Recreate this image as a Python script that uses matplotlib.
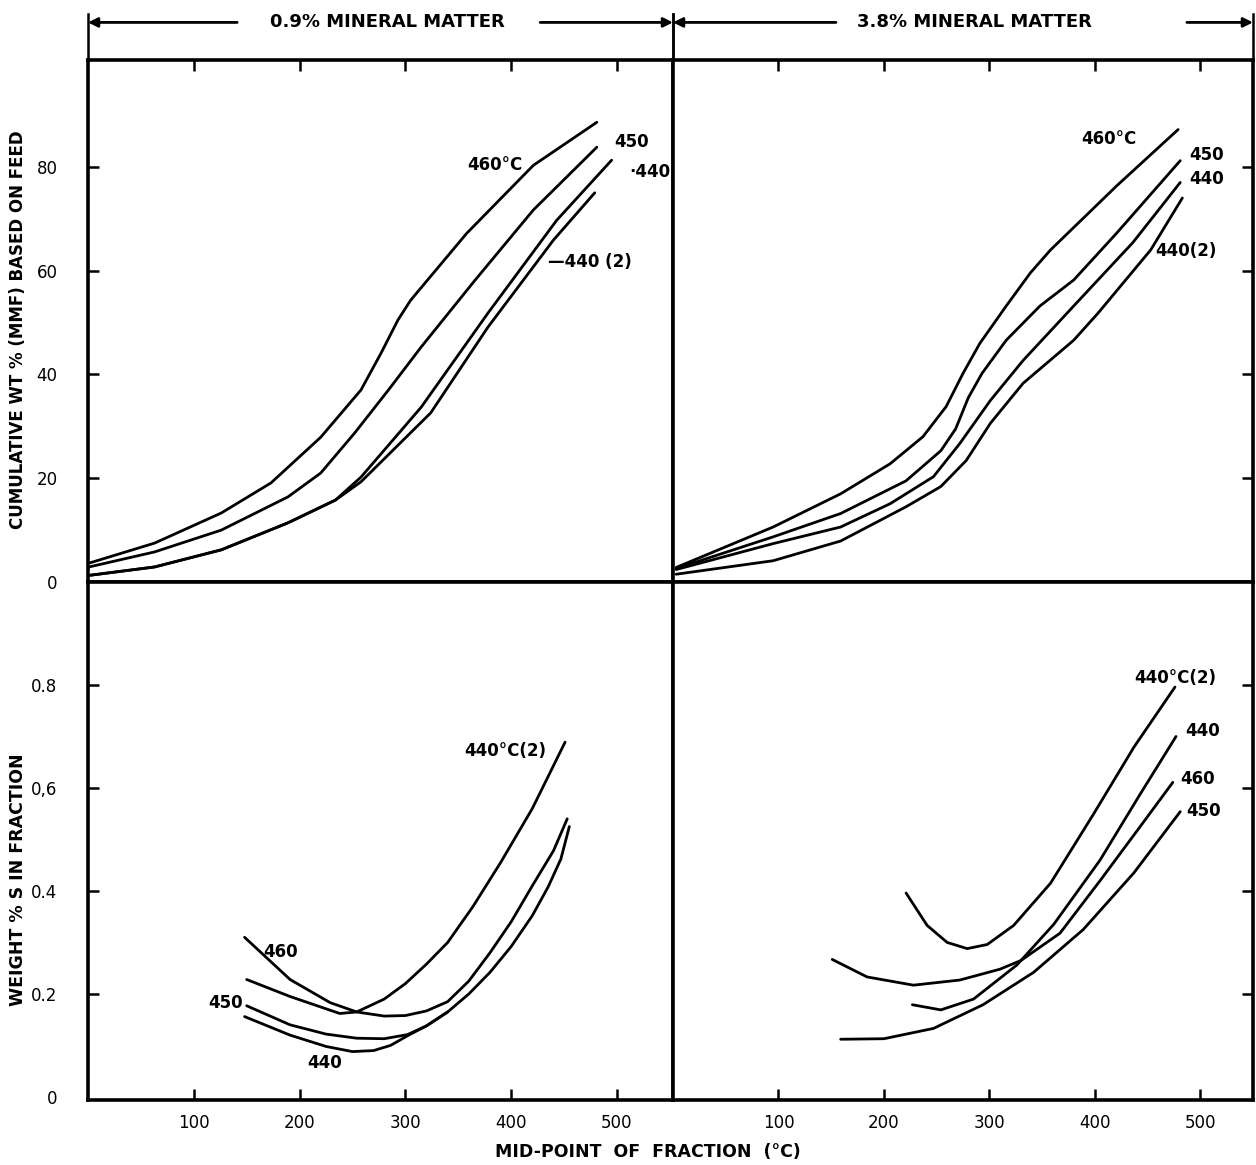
import numpy as np
from matplotlib import pyplot as plt

# ---- top panels: cumulative wt % (MMF) based on feed ----
# 0.9 % mineral matter
tl_460_x = [2, 63, 126, 173, 220, 258, 277, 293, 305, 321, 358, 421, 481]
tl_460_y = [3.7, 7.5, 13.3, 19.1, 27.9, 37.0, 44.1, 50.5, 54.3, 58.2, 67.2, 80.3, 88.6]
tl_450_x = [1, 63, 126, 189, 220, 252, 284, 315, 366, 421, 481]
tl_450_y = [2.9, 5.8, 10.0, 16.4, 21.0, 28.7, 37.0, 45.3, 58.2, 71.7, 83.8]
tl_440_x = [2, 63, 126, 189, 234, 258, 315, 378, 443, 495]
tl_440_y = [1.3, 2.9, 6.2, 11.4, 15.8, 20.2, 33.7, 51.8, 69.7, 81.3]
tl_4402_x = [2, 63, 126, 189, 234, 258, 324, 378, 440, 479]
tl_4402_y = [1.3, 2.9, 6.2, 11.4, 15.8, 19.3, 32.6, 49.1, 65.9, 75.0]

# 3.8 % mineral matter
tr_460_x = [3, 95, 159, 206, 237, 259, 275, 291, 316, 339, 358, 421, 479]
tr_460_y = [2.8, 10.6, 17.0, 22.8, 28.0, 33.8, 40.2, 46.0, 53.2, 59.6, 64.0, 76.4, 87.2]
tr_450_x = [3, 95, 159, 221, 254, 268, 280, 293, 316, 348, 380, 421, 481]
tr_450_y = [2.6, 8.7, 13.2, 19.5, 25.3, 29.5, 35.5, 40.2, 46.6, 53.2, 58.2, 67.3, 81.2]
tr_440_x = [3, 95, 159, 206, 247, 272, 301, 332, 380, 436, 481]
tr_440_y = [2.4, 7.4, 10.6, 15.1, 20.3, 26.7, 35.0, 42.7, 53.2, 65.4, 77.0]
tr_4402_x = [3, 95, 159, 221, 254, 278, 301, 332, 380, 403, 453, 483]
tr_4402_y = [1.5, 4.1, 7.9, 14.5, 18.4, 23.4, 30.6, 38.3, 46.6, 51.8, 64.0, 74.0]

# ---- bottom panels: weight % S in fraction ----
bl_460_x = [148, 191, 229, 254, 280, 300, 320, 340, 360, 380, 400, 420, 440, 453]
bl_460_y = [0.31, 0.228, 0.183, 0.165, 0.157, 0.158, 0.167, 0.185, 0.225, 0.28, 0.34, 0.41, 0.478, 0.54]
bl_450_x = [150, 191, 225, 254, 280, 302, 320, 340, 360, 380, 400, 420, 435, 447, 455]
bl_450_y = [0.177, 0.14, 0.122, 0.114, 0.113, 0.121, 0.138, 0.165, 0.2, 0.242, 0.292, 0.352, 0.408, 0.462, 0.525]
bl_440_x = [148, 191, 225, 250, 270, 286, 304, 320, 340]
bl_440_y = [0.156, 0.12, 0.098, 0.088, 0.09, 0.1, 0.121, 0.138, 0.165]
bl_4402_x = [150, 191, 238, 254, 280, 300, 320, 340, 364, 390, 420, 451]
bl_4402_y = [0.228, 0.195, 0.162, 0.165, 0.19, 0.22, 0.258, 0.3, 0.37, 0.455, 0.56, 0.689]

br_4402_x = [221, 241, 260, 279, 298, 323, 358, 399, 437, 476]
br_4402_y = [0.396, 0.333, 0.3, 0.288, 0.296, 0.333, 0.415, 0.55, 0.679, 0.796]
br_440_x = [227, 254, 285, 326, 361, 405, 443, 477]
br_440_y = [0.179, 0.169, 0.19, 0.256, 0.335, 0.46, 0.588, 0.70]
br_460_x = [151, 184, 228, 272, 310, 330, 367, 405, 443, 474]
br_460_y = [0.267, 0.233, 0.217, 0.227, 0.248, 0.265, 0.318, 0.42, 0.525, 0.611]
br_450_x = [159, 200, 247, 294, 342, 389, 437, 481]
br_450_y = [0.112, 0.113, 0.133, 0.179, 0.242, 0.325, 0.435, 0.554]

x_ticks = [100, 200, 300, 400, 500]
x_ticklabels = ['100', '200', '300', '400', '500']
top_yticks = [0, 20, 40, 60, 80]
bot_yticks = [0, 0.2, 0.4, 0.6, 0.8]
bot_yticklabels = ['0', '0.2', '0.4', '0,6', '0.8']

LW = 2.0
SPW = 2.6

fig = plt.figure(figsize=(12.56, 11.65), dpi=100)
W, H = 1256, 1165
ax_tl = fig.add_axes([88 / W, (H - 582) / H, 585 / W, 522 / H])
ax_tr = fig.add_axes([673 / W, (H - 582) / H, 580 / W, 522 / H])
ax_bl = fig.add_axes([88 / W, (H - 1100) / H, 585 / W, 518 / H])
ax_br = fig.add_axes([673 / W, (H - 1100) / H, 580 / W, 518 / H])

for ax in (ax_tl, ax_tr, ax_bl, ax_br):
    for s in ax.spines.values():
        s.set_linewidth(SPW)
    ax.tick_params(direction='in', length=8, width=1.8, labelsize=12)

ax_tl.set_xlim(0, 553)
ax_bl.set_xlim(0, 553)
ax_tr.set_xlim(0, 550)
ax_br.set_xlim(0, 550)
ax_tl.set_ylim(0, 100.6)
ax_tr.set_ylim(0, 100.6)
ax_bl.set_ylim(-0.006, 1.0)
ax_br.set_ylim(-0.006, 1.0)

# ticks
for ax in (ax_tl, ax_tr):
    ax.set_xticks(x_ticks)
    ax.tick_params(axis='x', top=True, bottom=False, labeltop=False, labelbottom=False)
for ax in (ax_bl, ax_br):
    ax.set_xticks(x_ticks)
    ax.set_xticklabels(x_ticklabels)
    ax.tick_params(axis='x', top=False, bottom=True, labelbottom=True, pad=10)

ax_tl.set_yticks(top_yticks)
ax_tl.set_yticklabels([str(v) for v in top_yticks])
ax_tl.tick_params(axis='y', left=True, right=False, pad=22)
ax_tr.set_yticks(top_yticks[1:])
ax_tr.tick_params(axis='y', left=False, right=True, labelleft=False)

ax_bl.set_yticks(bot_yticks)
ax_bl.set_yticklabels(bot_yticklabels)
ax_bl.tick_params(axis='y', left=True, right=False, pad=22)
ax_br.set_yticks(bot_yticks[1:])
ax_br.tick_params(axis='y', left=False, right=True, labelleft=False)

# hide the 0 tick marks (labels stay)
for ax in (ax_tl, ax_bl):
    ax.yaxis.get_major_ticks()[0].tick1line.set_visible(False)

# curves
kw = dict(color='black', lw=LW, solid_joinstyle='round', solid_capstyle='round')
ax_tl.plot(tl_460_x, tl_460_y, **kw)
ax_tl.plot(tl_450_x, tl_450_y, **kw)
ax_tl.plot(tl_440_x, tl_440_y, **kw)
ax_tl.plot(tl_4402_x, tl_4402_y, **kw)

ax_tr.plot(tr_460_x, tr_460_y, **kw)
ax_tr.plot(tr_450_x, tr_450_y, **kw)
ax_tr.plot(tr_440_x, tr_440_y, **kw)
ax_tr.plot(tr_4402_x, tr_4402_y, **kw)

ax_bl.plot(bl_460_x, bl_460_y, **kw)
ax_bl.plot(bl_450_x, bl_450_y, **kw)
ax_bl.plot(bl_440_x, bl_440_y, **kw)
ax_bl.plot(bl_4402_x, bl_4402_y, **kw)

ax_br.plot(br_4402_x, br_4402_y, **kw)
ax_br.plot(br_440_x, br_440_y, **kw)
ax_br.plot(br_460_x, br_460_y, **kw)
ax_br.plot(br_450_x, br_450_y, **kw)

# curve labels
lab = dict(fontsize=12, fontweight='bold', va='center')
ax_tl.text(385, 80.3, '460°C', ha='center', **lab)
ax_tl.text(497, 84.8, '450', ha='left', **lab)
ax_tl.text(512, 79.0, '·440', ha='left', **lab)
ax_tl.text(435, 61.7, '—440 (2)', ha='left', **lab)

ax_tr.text(413, 85.3, '460°C', ha='center', **lab)
ax_tr.text(490, 82.2, '450', ha='left', **lab)
ax_tr.text(490, 77.6, '440', ha='left', **lab)
ax_tr.text(486, 63.8, '440(2)', ha='center', **lab)

ax_bl.text(394, 0.672, '440°C(2)', ha='center', **lab)
ax_bl.text(182, 0.282, '460', ha='center', **lab)
ax_bl.text(130, 0.183, '450', ha='center', **lab)
ax_bl.text(224, 0.066, '440', ha='center', **lab)

ax_br.text(476, 0.813, '440°C(2)', ha='center', **lab)
ax_br.text(502, 0.71, '440', ha='center', **lab)
ax_br.text(497, 0.617, '460', ha='center', **lab)
ax_br.text(503, 0.556, '450', ha='center', **lab)

# header dimension lines
arr = dict(arrowstyle='-|>', lw=2.0, color='black', mutation_scale=14,
           shrinkA=0, shrinkB=0)
for ax, txt, tx, gl, gr in ((ax_tl, '0.9% MINERAL MATTER', 0.511, 0.255, 0.773),
                            (ax_tr, '3.8% MINERAL MATTER', 0.52, 0.281, 0.886)):
    hy = 1.072
    ax.text(tx, hy, txt, transform=ax.transAxes, ha='center', va='center',
            fontsize=13, fontweight='bold')
    ax.annotate('', xy=(0, hy), xytext=(gl, hy), xycoords='axes fraction',
                arrowprops=arr, annotation_clip=False)
    ax.annotate('', xy=(1, hy), xytext=(gr, hy), xycoords='axes fraction',
                arrowprops=arr, annotation_clip=False)
    for xe in (0, 1):
        ax.plot([xe, xe], [1.0, 1.088], transform=ax.transAxes, color='black',
                lw=1.8, clip_on=False)

# axis titles
fig.text(18 / W, (H - 330) / H, 'CUMULATIVE WT % (MMF) BASED ON FEED', rotation=90,
         ha='center', va='center', fontsize=12, fontweight='bold')
fig.text(18 / W, (H - 880) / H, 'WEIGHT % S IN FRACTION', rotation=90,
         ha='center', va='center', fontsize=12.5, fontweight='bold')
fig.text(648 / W, (H - 1152) / H, 'MID-POINT  OF  FRACTION  (°C)',
         ha='center', va='center', fontsize=12.5, fontweight='bold')

fig.savefig('out.png', dpi=100)
